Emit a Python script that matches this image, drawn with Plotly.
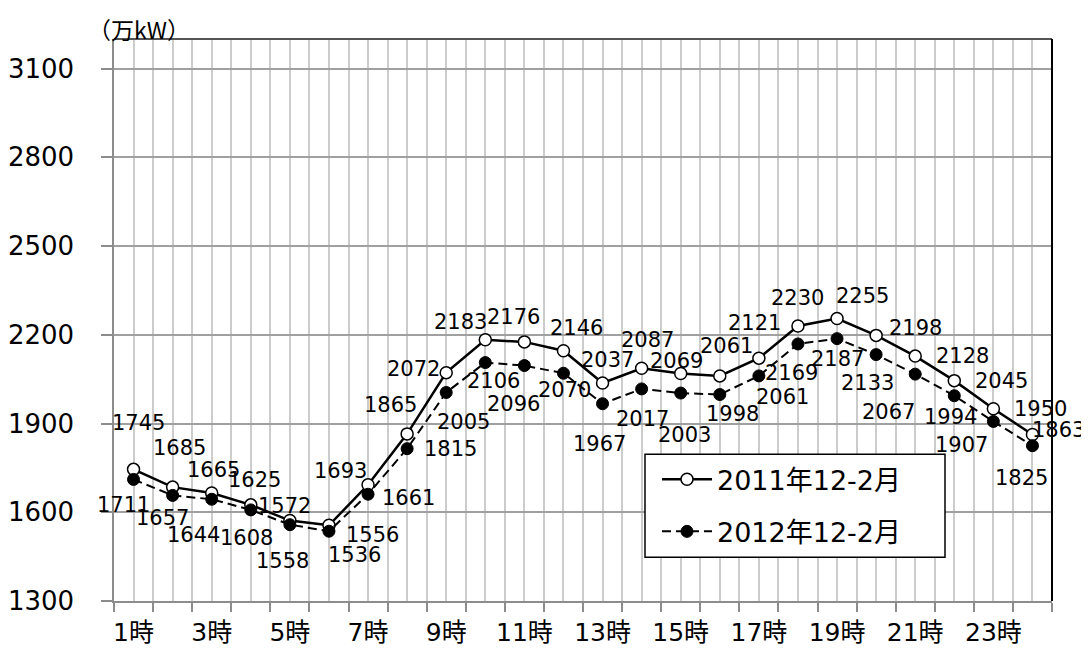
import plotly.graph_objects as go

hours = list(range(1, 25))
hour_labels = [f"{h}時" if h % 2 == 1 else "" for h in hours]
demand_2011 = [1745, 1685, 1665, 1625, 1572, 1556, 1693, 1865, 2072, 2183, 2176, 2146,
               2037, 2087, 2069, 2061, 2121, 2230, 2255, 2198, 2128, 2045, 1950, 1863]
demand_2012 = [1711, 1657, 1644, 1608, 1558, 1536, 1661, 1815, 2005, 2106, 2096, 2070,
               1967, 2017, 2003, 1998, 2061, 2169, 2187, 2133, 2067, 1994, 1907, 1825]
y_ticks = [1300, 1600, 1900, 2200, 2500, 2800, 3100]
series_names = ["2011年12-2月", "2012年12-2月"]
unit_label = "（万kW）"

# label offsets in pixels (dx, dy with dy positive = downward on screen)
off_2011 = [(5, -46), (7, -39), (2, -23), (4, -25), (-5, -15), (44, 10), (-28, -14), (-17, -29),
            (-33, -4), (-25, -18), (-11, -25), (13, -23), (5, -23), (6, -28), (-4, -13), (7, -30),
            (-4, -35), (0, -28), (25, -23), (39, -7), (47, 0), (47, 0), (47, 0), (26, -4)]
off_2012 = [(-10, 26), (-10, 23), (-18, 36), (-4, 28), (-7, 36), (26, 24), (40, 4), (43, 0),
            (17, 30), (8, 18), (-11, 38), (1, 17), (-3, 40), (1, 30), (4, 42), (13, 19),
            (24, 21), (-6, 29), (0, 20), (-9, 28), (-27, 38), (-4, 21), (-32, 24), (-11, 32)]

FONT = "DejaVu Sans, Noto Sans CJK JP, sans-serif"
PAGE_OFF = 8  # default body margin of the html page
W, H = 1089 - PAGE_OFF, 648 - PAGE_OFF
PL, PR, PT, PB = 114, 1052, 39, 600.7  # plot area in page pixels
L, R, T, B = PL - PAGE_OFF, W - (PR - PAGE_OFF), PT - PAGE_OFF, H - (PB - PAGE_OFF)


def px_x(p):
    return (p - PL) / (PR - PL)


def px_y(p):
    return (PB - p) / (PB - PT)


fig = go.Figure()
fig.add_trace(go.Scatter(
    x=hours, y=demand_2011, mode="lines+markers", name=series_names[0],
    line=dict(color="black", width=2.5),
    marker=dict(symbol="circle", size=12, color="white", line=dict(color="black", width=1.5)),
    legendgroup="a"))
fig.add_trace(go.Scatter(
    x=hours, y=demand_2012, mode="lines+markers", name=series_names[1],
    line=dict(color="black", width=2, dash="9px,5px"),
    marker=dict(symbol="circle", size=12, color="black", line=dict(color="black", width=1)),
    legendgroup="b"))

annotations = []
for vals, offs in ((demand_2011, off_2011), (demand_2012, off_2012)):
    for h, v, (dx, dy) in zip(hours, vals, offs):
        annotations.append(dict(x=h, y=v, xref="x", yref="y", text=str(v), showarrow=False,
                                xanchor="center", yanchor="middle", xshift=dx, yshift=-dy,
                                font=dict(family=FONT, size=21, color="black")))
annotations.append(dict(x=px_x(86), y=px_y(29), xref="paper", yref="paper",
                        text=unit_label, showarrow=False, xanchor="left", yanchor="middle",
                        font=dict(family="Noto Sans CJK JP, DejaVu Sans", size=23, color="black")))

shapes = [
    dict(type="rect", xref="paper", yref="paper", x0=px_x(645), x1=px_x(945),
         y0=px_y(557), y1=px_y(454), fillcolor="white",
         line=dict(color="black", width=1.5), layer="above"),
    dict(type="line", xref="paper", yref="paper", x0=0, x1=1, y0=1, y1=1,
         line=dict(color="#555555", width=2)),
    dict(type="line", xref="paper", yref="paper", x0=1, x1=1, y0=0, y1=1,
         line=dict(color="black", width=2)),
]

fig.update_layout(
    width=W, height=H,
    margin=dict(l=L, r=R, t=T, b=B, autoexpand=False),
    paper_bgcolor="white", plot_bgcolor="white",
    font=dict(family=FONT, color="black"),
    annotations=annotations, shapes=shapes,
    showlegend=True,
    legend=dict(x=px_x(657), y=px_y(455), xanchor="left", yanchor="top",
                bgcolor="rgba(0,0,0,0)", borderwidth=0, traceorder="grouped",
                tracegroupgap=14, itemwidth=50,
                font=dict(family=FONT, size=27, color="black")),
    xaxis=dict(range=[0.5, 24.5], tickmode="array", tickvals=hours, ticktext=hour_labels,
               ticks="", showgrid=True, gridcolor="#cccccc", gridwidth=1.5, automargin=False,
               showline=True, linecolor="#8c8c8c", linewidth=1.5, zeroline=False,
               tickfont=dict(family=FONT, size=25, color="black"), ticklabelstandoff=8,
               minor=dict(tickmode="array", tickvals=[h - 0.5 for h in range(1, 26)],
                          ticks="outside", ticklen=9, tickwidth=1.5, tickcolor="#8c8c8c",
                          showgrid=True, gridcolor="#cccccc", gridwidth=1.5)),
    yaxis=dict(range=[1300, 3200], tickmode="array", tickvals=y_ticks, automargin=False,
               ticks="outside", ticklen=11, tickwidth=1.5, tickcolor="#8c8c8c",
               showgrid=True, gridcolor="#a0a0a0", gridwidth=1.5,
               showline=True, linecolor="#8c8c8c", linewidth=1.5, zeroline=False,
               tickfont=dict(family=FONT, size=26, color="black"), ticklabelstandoff=22),
)

fig.write_html("out.html")
